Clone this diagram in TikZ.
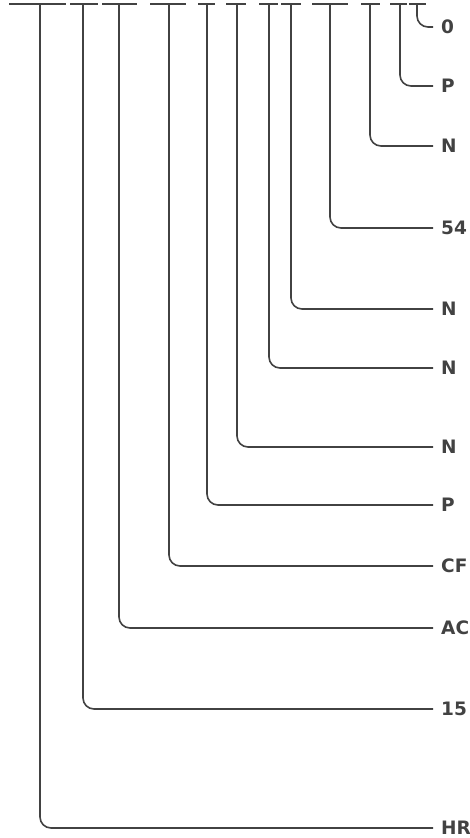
\documentclass[tikz,border=0pt]{standalone}
\usepackage{fontspec}
\setsansfont{DejaVu Sans}
\usepackage{tikz}
\usetikzlibrary{positioning}
\definecolor{ink}{HTML}{424242}
\tikzstyle{bar}  = [draw=ink,line width=1.6pt]
\tikzstyle{leaf} = [anchor=west,inner sep=0pt,text=ink,font=\sffamily\bfseries\fontsize{18.5}{21}\selectfont]
\tikzstyle{link} = [draw=ink,line width=1.6pt,rounded corners=11pt,shorten >=8pt]

\begin{document}
\begin{tikzpicture}[x=1pt,y=-1pt]
\useasboundingbox (0,0) rectangle (469,838);

\coordinate (T1)  at (40,4);
\coordinate (T2)  at (83,4);
\coordinate (T3)  at (119,4);
\coordinate (T4)  at (169,4);
\coordinate (T5)  at (207,4);
\coordinate (T6)  at (237,4);
\coordinate (T7)  at (269,4);
\coordinate (T8)  at (291,4);
\coordinate (T9)  at (330,4);
\coordinate (T10) at (370,4);
\coordinate (T11) at (400,4);
\coordinate (T12) at (417,4);

\node[leaf] (L1)  at (441,828) {HR};
\node[leaf] (L2)  at (441,709) {15};
\node[leaf] (L3)  at (441,628) {AC};
\node[leaf] (L4)  at (441,566) {CF};
\node[leaf] (L5)  at (441,505) {P};
\node[leaf] (L6)  at (441,447) {N};
\node[leaf] (L7)  at (441,368) {N};
\node[leaf] (L8)  at (441,309) {N};
\node[leaf] (L9)  at (441,228) {54};
\node[leaf] (L10) at (441,146) {N};
\node[leaf] (L11) at (441,86)  {P};
\node[leaf] (L12) at (441,27)  {0};

% top bars
\draw[bar] ([xshift=-31pt]T1)  -- ([xshift=26pt]T1);
\draw[bar] ([xshift=-13pt]T2)  -- ([xshift=15pt]T2);
\draw[bar] ([xshift=-17pt]T3)  -- ([xshift=18pt]T3);
\draw[bar] ([xshift=-19pt]T4)  -- ([xshift=17pt]T4);
\draw[bar] ([xshift=-9pt]T5)   -- ([xshift=8pt]T5);
\draw[bar] ([xshift=-11pt]T6)  -- ([xshift=9pt]T6);
\draw[bar] ([xshift=-10pt]T7)  -- ([xshift=9pt]T7);
\draw[bar] ([xshift=-10pt]T8)  -- ([xshift=10pt]T8);
\draw[bar] ([xshift=-18pt]T9)  -- ([xshift=18pt]T9);
\draw[bar] ([xshift=-9pt]T10)  -- ([xshift=10pt]T10);
\draw[bar] ([xshift=-10pt]T11) -- ([xshift=7pt]T11);
\draw[bar] ([xshift=-8pt]T12)  -- ([xshift=9pt]T12);

% drop lines
\draw[link] (T1)  |- (L1);
\draw[link] (T2)  |- (L2);
\draw[link] (T3)  |- (L3);
\draw[link] (T4)  |- (L4);
\draw[link] (T5)  |- (L5);
\draw[link] (T6)  |- (L6);
\draw[link] (T7)  |- (L7);
\draw[link] (T8)  |- (L8);
\draw[link] (T9)  |- (L9);
\draw[link] (T10) |- (L10);
\draw[link] (T11) |- (L11);
\draw[link] (T12) |- (L12);
\end{tikzpicture}
\end{document}
